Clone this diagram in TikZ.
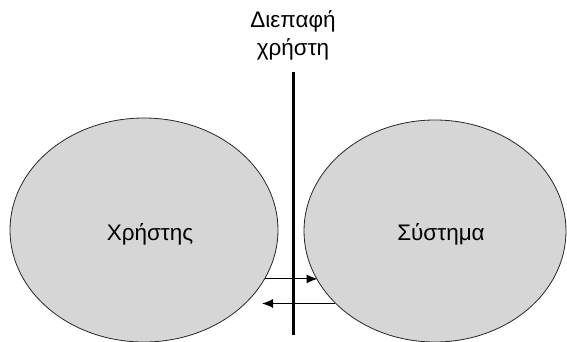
\documentclass[tikz,border=0pt]{standalone}
\usepackage{fontspec}
\setmainfont{Liberation Sans}
\usetikzlibrary{shapes.geometric, arrows.meta}

\begin{document}
\begin{tikzpicture}[x=1pt,y=-1pt,>={Latex[length=11pt,width=9pt]},
        part/.style={ellipse, draw=black!85, line width=0.8pt, fill=black!16, inner sep=0pt},
        flow/.style={->, line width=1.1pt}]
        \useasboundingbox (0,0) rectangle (567,342);
        \fontsize{22.5}{28}\selectfont

        % draw the two ellipses
        \node[part, minimum width=268, minimum height=224] (user) at (144,230) {};
        \node[part, minimum width=262, minimum height=222] (sys)  at (435,231) {};

        % the names, a little right of the centres
        \node[anchor=base] (userlbl) at (150,240) {Χρήστης};
        \node[anchor=base] (syslbl)  at (441,240) {Σύστημα};

        % draw the interface line with its label
        \node[anchor=north, align=center, inner sep=0pt] (iface) at (293,10) {Διεπαφή\\χρήστη};
        \coordinate (top) at (293,72);
        \coordinate (bot) at (293,335);
        \draw[line width=3pt] (top) -- (bot);

        % draw the two arrows across the line
        \draw[flow] (user.-22.5) -- (user.-22.5 -| sys.-157);
        \coordinate (back) at (262,302);
        \draw[flow] (sys.-144.6) -- (sys.-144.6 -| back);

    \end{tikzpicture}
\end{document}
